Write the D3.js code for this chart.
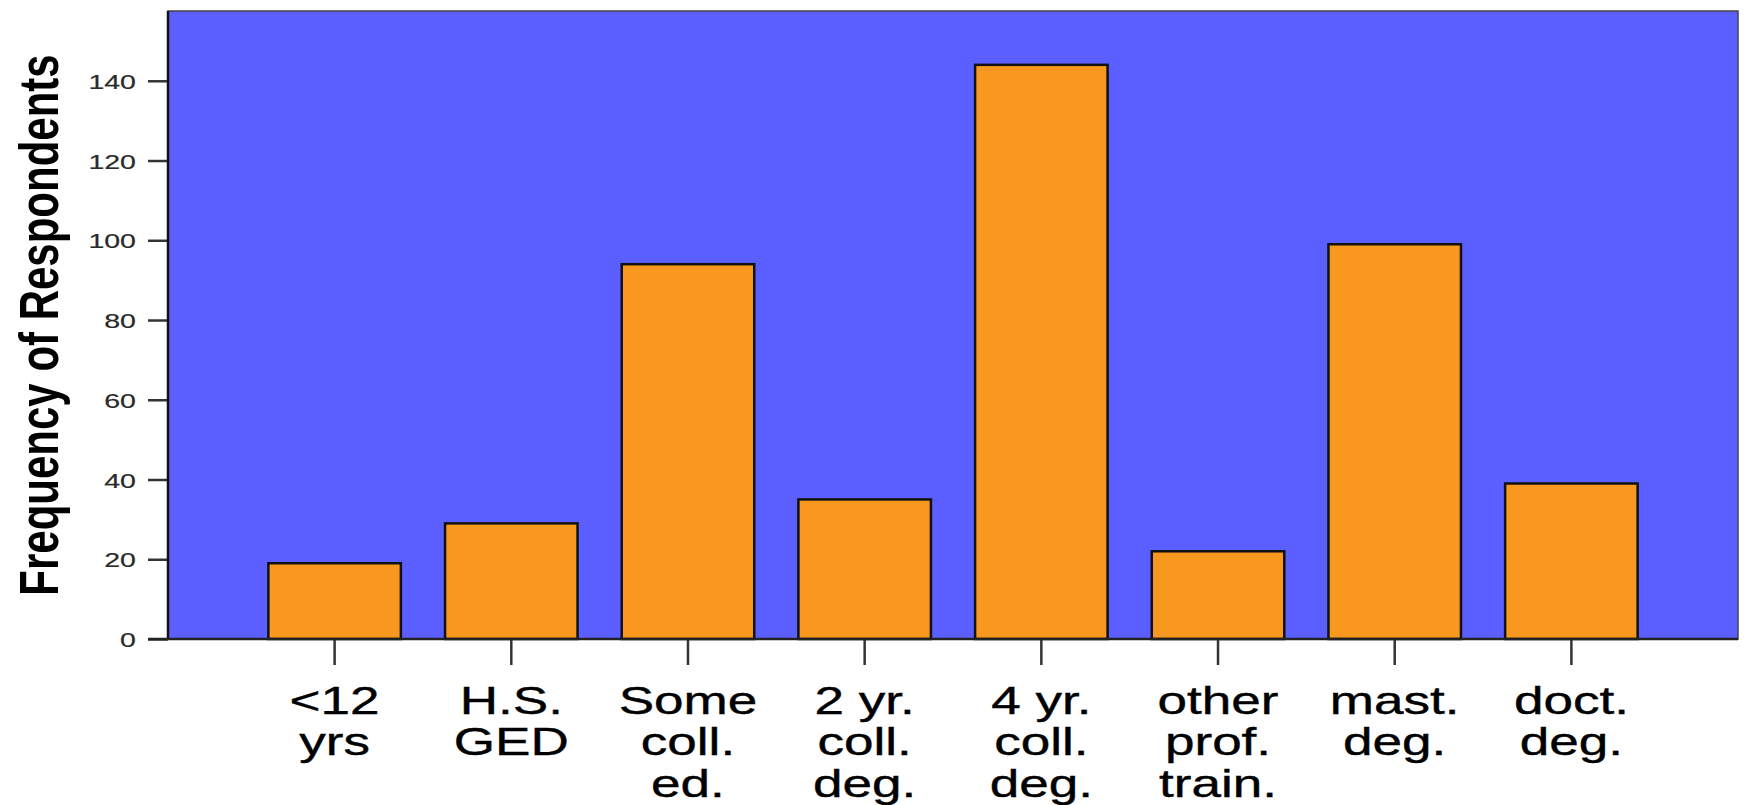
<!DOCTYPE html>
<html>
<head>
<meta charset="utf-8">
<script src="https://cdn.jsdelivr.net/npm/d3@7"></script>
<style>
  html, body { margin: 0; padding: 0; background: #ffffff; }
  svg { display: block; }
  text { font-family: "Liberation Sans", Arial, Helvetica, sans-serif; }
</style>
</head>
<body>
<svg id="chart" width="1744" height="805"></svg>
<script>
const categories = ["<12 yrs", "H.S. GED", "Some coll. ed.", "2 yr. coll. deg.", "4 yr. coll. deg.", "other prof. train.", "mast. deg.", "doct. deg."];
const labelLines = [["<12", "yrs"], ["H.S.", "GED"], ["Some", "coll.", "ed."], ["2 yr.", "coll.", "deg."], ["4 yr.", "coll.", "deg."], ["other", "prof.", "train."], ["mast.", "deg."], ["doct.", "deg."]];
const values = [19, 29, 94, 35, 144, 22, 99, 39];
const yTicks = [0, 20, 40, 60, 80, 100, 120, 140];
const yTitle = "Frequency of Respondents";

(function () {
const svg = d3.select("#chart");
const pLeft = 168, pRight = 1738, pTop = 11, pBottom = 639;
const stretch = 1.36;

const x = d3.scaleBand().domain(categories).range([pLeft, pRight]).paddingInner(0.25).paddingOuter(0.568);
const y = d3.scaleLinear().domain([0, 157.5]).range([pBottom, pTop]);

// plot background
svg.append("rect")
  .attr("x", pLeft).attr("y", pTop)
  .attr("width", pRight - pLeft).attr("height", pBottom - pTop)
  .attr("fill", "#5c5fff")
  .attr("stroke", "#444").attr("stroke-width", 1.5);

// bars
svg.append("g").selectAll("rect")
  .data(values)
  .join("rect")
  .attr("x", (d, i) => x(categories[i]))
  .attr("y", d => y(d))
  .attr("width", x.bandwidth())
  .attr("height", d => y(0) - y(d))
  .attr("fill", "#f8981f")
  .attr("stroke", "#111")
  .attr("stroke-width", 2.5);

// y axis
const yAxis = svg.append("g")
  .attr("transform", `translate(${pLeft},0)`)
  .call(d3.axisLeft(y).tickValues(yTicks).tickSize(20).tickFormat(""));
yAxis.select(".domain").remove();
yAxis.selectAll(".tick line").attr("stroke", "#333").attr("stroke-width", 2.5);

svg.append("g").selectAll("g")
  .data(yTicks)
  .join("g")
  .attr("transform", d => `translate(136,${y(d) + 8}) scale(${stretch},1)`)
  .append("text")
  .attr("text-anchor", "end")
  .attr("font-size", 21)
  .attr("fill", "#2a2a2a")
  .attr("stroke", "#2a2a2a").attr("stroke-width", 0.2)
  .text(d => d);

// x axis
const xAxis = svg.append("g")
  .attr("transform", `translate(0,${pBottom})`)
  .call(d3.axisBottom(x).tickSize(26).tickFormat(""));
xAxis.select(".domain").remove();
xAxis.selectAll(".tick line").attr("stroke", "#333").attr("stroke-width", 2.5);

const lab = svg.append("g").selectAll("g")
  .data(categories)
  .join("g")
  .attr("transform", d => `translate(${x(d) + x.bandwidth() / 2},714) scale(${stretch},1)`);
lab.append("text")
  .attr("text-anchor", "middle")
  .attr("font-size", 39)
  .attr("fill", "#000")
  .attr("stroke", "#000").attr("stroke-width", 0.4)
  .selectAll("tspan")
  .data((d, i) => labelLines[i])
  .join("tspan")
  .attr("x", 0)
  .attr("y", (d, j) => j * 41.5)
  .text(d => d);

// axis lines
svg.append("line")
  .attr("x1", pLeft).attr("x2", pLeft).attr("y1", pTop).attr("y2", pBottom + 1)
  .attr("stroke", "#111").attr("stroke-width", 2.5);
svg.append("line")
  .attr("x1", pLeft - 20).attr("x2", pRight).attr("y1", pBottom).attr("y2", pBottom)
  .attr("stroke", "#222").attr("stroke-width", 2.5);

// y title
svg.append("g")
  .attr("transform", `translate(58,325) scale(1.32,1) rotate(-90)`)
  .append("text")
  .attr("text-anchor", "middle")
  .attr("font-size", 42)
  .attr("font-weight", "bold")
  .attr("fill", "#000")
  .text(yTitle);
})();
</script>
</body>
</html>
